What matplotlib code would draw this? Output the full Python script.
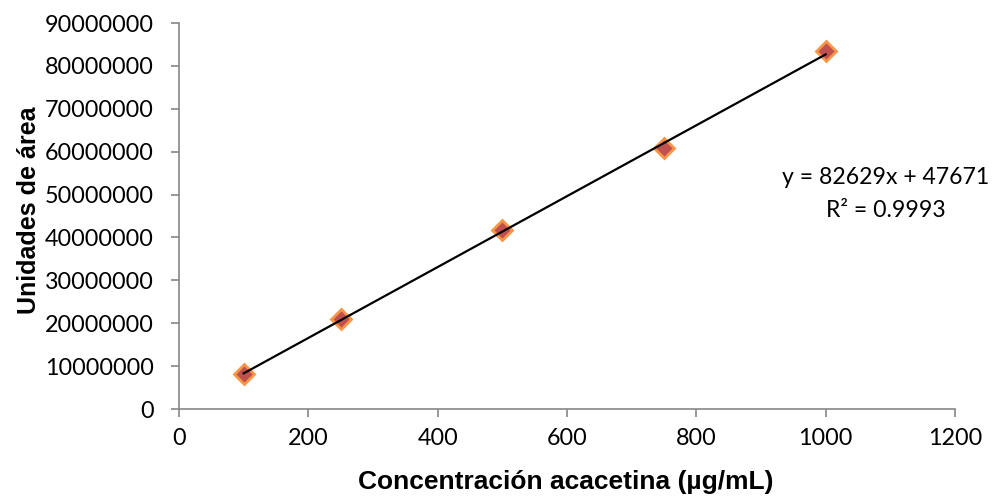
import matplotlib
matplotlib.use("Agg")
import matplotlib.pyplot as plt
import numpy as np

# Calibration data: acacetin concentration vs. peak area
concentracion = [100, 250, 500, 750, 1000]
area = [8.2e6, 21.1e6, 41.7e6, 60.9e6, 83.4e6]

# Linear trendline parameters (as reported)
pendiente = 82629
intercepto = 47671
r2 = 0.9993

x_ticks = [0, 200, 400, 600, 800, 1000, 1200]
y_ticks = [0, 10000000, 20000000, 30000000, 40000000, 50000000,
           60000000, 70000000, 80000000, 90000000]

tick_font = "Lato"
title_font = "Liberation Sans"
axis_gray = "#868686"

fig = plt.figure(figsize=(9.93, 4.98), dpi=100)
ax = fig.add_axes([0.1803, 0.1787, 0.7814, 0.7751])

ax.set_xlim(0, 1200)
ax.set_ylim(0, 90000000)

# trendline
xl = np.array([min(concentracion), max(concentracion)])
ax.plot(xl, pendiente * xl + intercepto, color="black", lw=1.6, zorder=3)

# data points
ax.plot(concentracion, area, linestyle="none", marker="D", markersize=10,
        markerfacecolor="#C0504D", markeredgecolor="#F79646",
        markeredgewidth=2, zorder=2)

for side in ("top", "right"):
    ax.spines[side].set_visible(False)
for side in ("left", "bottom"):
    ax.spines[side].set_color(axis_gray)
    ax.spines[side].set_linewidth(1.2)

ax.set_xticks(x_ticks)
ax.set_yticks(y_ticks)
ax.set_xticklabels([str(v) for v in x_ticks])
ax.set_yticklabels([str(v) for v in y_ticks])
ax.tick_params(axis="both", direction="out", length=6, width=1.2,
               color=axis_gray, labelsize=16.8)
ax.tick_params(axis="y", pad=12)
ax.tick_params(axis="x", pad=8)
for lab in ax.get_xticklabels() + ax.get_yticklabels():
    lab.set_fontfamily(tick_font)

ax.set_xlabel("Concentración acacetina (µg/mL)", fontfamily=title_font,
              fontweight="bold", fontsize=19, va="center")
ax.xaxis.set_label_coords(0.499, -0.189)
ax.set_ylabel("Unidades de área", fontfamily=title_font,
              fontweight="bold", fontsize=18, va="center")
ax.yaxis.set_label_coords(-0.1933, 0.514)

ax.text(1093, 53.9e6, f"y = {pendiente}x + {intercepto}", fontfamily=tick_font,
        fontsize=16.6, ha="center", va="center")
ax.text(1093, 46.2e6, f"R² = {r2}", fontfamily=tick_font,
        fontsize=16.6, ha="center", va="center")

fig.savefig("out.png", dpi=100)
